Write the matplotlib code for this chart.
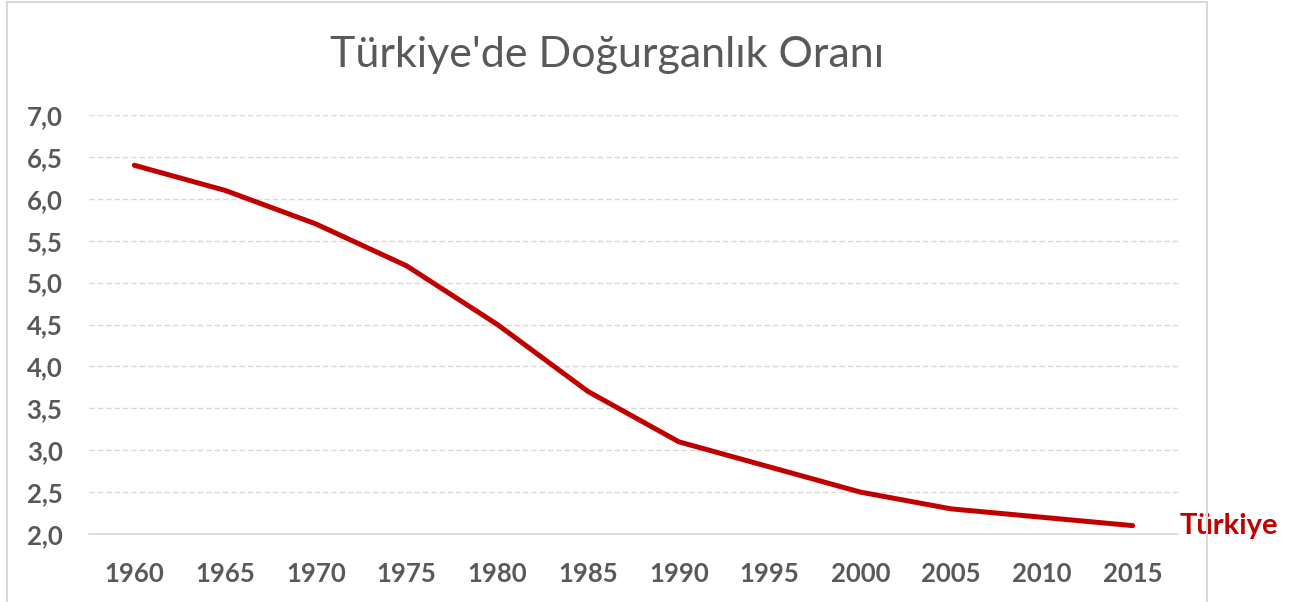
import matplotlib
matplotlib.use("Agg")
import matplotlib.pyplot as plt
from matplotlib.patches import Rectangle

years = ["1960", "1965", "1970", "1975", "1980", "1985", "1990", "1995", "2000", "2005", "2010", "2015"]
fertility = [6.4, 6.1, 5.7, 5.2, 4.5, 3.7, 3.1, 2.8, 2.5, 2.3, 2.2, 2.1]
yticks = [2.0, 2.5, 3.0, 3.5, 4.0, 4.5, 5.0, 5.5, 6.0, 6.5, 7.0]
series_name = "Türkiye"
title = "Türkiye'de Doğurganlık Oranı"

W, H = 1296, 602
fig = plt.figure(figsize=(W / 100, H / 100), dpi=100)
fig.patch.set_facecolor("white")

# chart border
fig.add_artist(Rectangle((7 / W, -0.05), 1200 / W, (H - 2) / H + 0.05, transform=fig.transFigure,
                         fill=False, edgecolor="#D9D9D9", linewidth=1.5))

ax = fig.add_axes([89 / W, (H - 534) / H, (1178 - 89) / W, (534 - 115) / H])
x = list(range(len(years)))
ax.plot(x, fertility, color="#C00000", linewidth=3.6, solid_capstyle="round", zorder=3)
ax.set_xlim(-0.5, len(years) - 0.5)
ax.set_ylim(2.0, 7.0)
ax.set_yticks(yticks)
ax.set_yticklabels([f"{v:.1f}".replace(".", ",") for v in yticks])
ax.set_xticks(x)
ax.set_xticklabels(years)
for v in yticks[1:]:
    ax.axhline(v, color="#D9D9D9", linewidth=1.0, linestyle=(0, (4, 2)), zorder=1)
for s in ["top", "right", "left"]:
    ax.spines[s].set_visible(False)
ax.spines["bottom"].set_color("#D9D9D9")
ax.spines["bottom"].set_linewidth(1.2)
ax.tick_params(axis="both", length=0, labelcolor="#595959", labelsize=18.5)
ax.tick_params(axis="y", pad=19)
ax.tick_params(axis="x", pad=20)
for lab in ax.get_xticklabels() + ax.get_yticklabels():
    lab.set_fontweight("bold")
    lab.set_family("Lato")

ax.text(len(years) - 0.5 + 0.02, fertility[-1], series_name, color="#C00000", fontsize=21,
        fontweight="bold", family="Lato", va="center", ha="left", clip_on=False)

fig.text(607 / W, 1 - 55 / H, title, ha="center", va="center", fontsize=31,
         color="#595959", family="Lato")

fig.savefig("out.png", dpi=100)
